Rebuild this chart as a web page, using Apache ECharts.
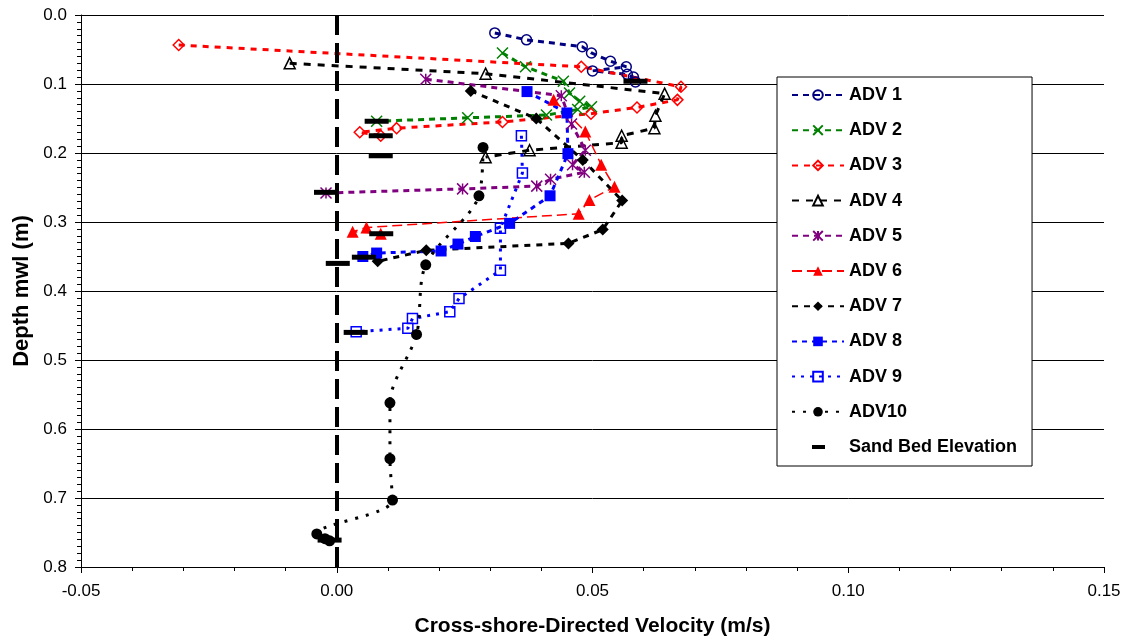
<!DOCTYPE html>
<html><head><meta charset="utf-8">
<script src="https://cdn.jsdelivr.net/npm/echarts@6/dist/echarts.min.js"></script>
<style>html,body{margin:0;padding:0;background:#fff}#c{width:1129px;height:642px}</style>
</head><body><div id="c"></div>
<script>
// ---- data (velocity m/s, depth m) ----
const seriesNames = ['ADV 1','ADV 2','ADV 3','ADV 4','ADV 5','ADV 6','ADV 7','ADV 8','ADV 9','ADV10','Sand Bed Elevation'];
const adv1 = [[0.0309,0.026],[0.0371,0.036],[0.0480,0.046],[0.0498,0.055],[0.0535,0.067],[0.0566,0.075],[0.0500,0.081],[0.0568,0.086],[0.0580,0.090],[0.0584,0.097]];
const adv2 = [[0.0324,0.055],[0.0369,0.075],[0.0443,0.096],[0.0455,0.113],[0.0475,0.125],[0.0498,0.133],[0.0471,0.137],[0.0410,0.145],[0.0256,0.149],[0.0078,0.154]];
const adv3 = [[-0.0309,0.0435],[0.0478,0.075],[0.0673,0.104],[0.0666,0.123],[0.0587,0.134],[0.0497,0.143],[0.0324,0.155],[0.0117,0.164],[0.0045,0.170],[0.0086,0.175]];
const adv4 = [[-0.0092,0.070],[0.0291,0.085],[0.0641,0.114],[0.0623,0.146],[0.0621,0.164],[0.0557,0.175],[0.0557,0.185],[0.0377,0.196],[0.0291,0.206]];
const adv5 = [[0.0174,0.093],[0.0439,0.117],[0.0459,0.158],[0.0486,0.196],[0.0461,0.217],[0.0484,0.228],[0.0418,0.238],[0.0391,0.248],[0.0246,0.252],[-0.0021,0.258]];
const adv6 = [[0.0424,0.123],[0.0486,0.169],[0.0517,0.217],[0.0543,0.249],[0.0494,0.268],[0.0473,0.288],[0.0058,0.308],[0.0031,0.314],[0.0086,0.317]];
const adv7 = [[0.0262,0.110],[0.0390,0.150],[0.0481,0.210],[0.0558,0.269],[0.0520,0.311],[0.0453,0.331],[0.0175,0.341],[0.0080,0.357]];
const adv8 = [[0.0372,0.111],[0.0450,0.142],[0.0452,0.201],[0.0417,0.262],[0.0338,0.302],[0.0271,0.321],[0.0237,0.332],[0.0204,0.342],[0.0078,0.345],[0.0051,0.350]];
const adv9 = [[0.0361,0.175],[0.0363,0.229],[0.0320,0.309],[0.0320,0.370],[0.0239,0.411],[0.0221,0.430],[0.0148,0.440],[0.0139,0.454],[0.0038,0.459]];
const adv10 = [[0.0286,0.192],[0.0278,0.262],[0.0174,0.362],[0.0156,0.463],[0.0104,0.562],[0.0104,0.643],[0.0109,0.703],[-0.0039,0.752],[-0.0023,0.759],[-0.0014,0.762]];
const sandBed = [[0.0584,0.096],[0.0078,0.154],[0.0086,0.175],[0.0086,0.204],[-0.0021,0.257],[0.0087,0.317],[0.0053,0.351],[0.0002,0.360],[0.0037,0.460],[-0.0014,0.761]];
const xTicks = [-0.05, 0.00, 0.05, 0.10, 0.15];
const yTicks = [0.0, 0.1, 0.2, 0.3, 0.4, 0.5, 0.6, 0.7, 0.8];

const FONT = '"Liberation Sans", Arial, sans-serif';
const CROSS = 'path://M0,0L10,10M10,0L0,10';
const STAR = 'path://M0,0L10,10M10,0L0,10M5,0L5,10';

function mk(name, data, color, symbol, size, filled, dash, width, smooth) {
  return {
    name, type: 'line', data, smooth: smooth || false,
    symbol, symbolSize: size, showSymbol: true, showAllSymbol: true,
    lineStyle: { color, width, type: dash, cap: 'butt' },
    itemStyle: filled ? { color, borderWidth: 0, opacity: 1 } : { color: 'rgba(0,0,0,0)', borderColor: color, borderWidth: 1.5, opacity: 1 },
    emphasis: { disabled: true }, animation: false, z: 3
  };
}

const series = [
  mk(seriesNames[0], adv1, '#000080', 'circle', 10, false, [6,5], 3),
  mk(seriesNames[1], adv2, '#008000', CROSS, 11, false, [6,5], 3),
  mk(seriesNames[2], adv3, '#FF0000', 'diamond', 11, false, [6,6], 3),
  mk(seriesNames[3], adv4, '#000000', 'triangle', 11, false, [7,7], 3),
  mk(seriesNames[4], adv5, '#800080', STAR, 11, false, [6,5], 3),
  mk(seriesNames[5], adv6, '#FF0000', 'triangle', 12, true, [10,5], 1.5),
  mk(seriesNames[6], adv7, '#000000', 'diamond', 12, true, [6,6], 3),
  mk(seriesNames[7], adv8, '#0000FF', 'rect', 11, true, [5,5], 3),
  mk(seriesNames[8], adv9, '#0000FF', 'rect', 10, false, [3,6], 3),
  mk(seriesNames[9], adv10, '#000000', 'circle', 11, true, [3,8], 3, 0.3),
  {
    name: seriesNames[10], type: 'scatter', data: sandBed,
    symbol: 'rect', symbolSize: [24, 5], itemStyle: { color: '#000', opacity: 1 },
    emphasis: { disabled: true }, animation: false, z: 4,
    markLine: {
      silent: true, symbol: 'none', animation: false,
      label: { show: false },
      lineStyle: { color: '#000', width: 4, type: [20, 8], opacity: 1 },
      data: [{ xAxis: xTicks[1] }]
    }
  }
];

const legendData = seriesNames.map((n, i) => i === 10
  ? { name: n, icon: 'path://M0,0M52,12M20,4L33,4L33,8L20,8Z', itemStyle: { color: '#000', opacity: 1 } }
  : { name: n });

const chart = echarts.init(document.getElementById('c'), null, { renderer: 'canvas' });
chart.setOption({
  backgroundColor: '#fff',
  animation: false,
  textStyle: { fontFamily: FONT },
  grid: { left: 81, right: 25, top: 15, bottom: 75, containLabel: false },
  xAxis: {
    type: 'value', min: xTicks[0], max: xTicks[xTicks.length - 1], interval: 0.05,
    name: 'Cross-shore-Directed Velocity (m/s)', nameLocation: 'middle', nameGap: 49,
    nameTextStyle: { fontFamily: FONT, fontSize: 21, fontWeight: 'bold', color: '#000' },
    axisLine: { show: true, onZero: false, lineStyle: { color: '#000', width: 1 } },
    axisTick: { show: true, inside: false, length: 6, lineStyle: { color: '#000' } },
    minorTick: { show: true, splitNumber: 5, length: 4, lineStyle: { color: '#000' } },
    splitLine: { show: false },
    axisLabel: { fontFamily: FONT, fontSize: 17, color: '#000', margin: 16, formatter: v => v.toFixed(2) }
  },
  yAxis: {
    type: 'value', inverse: true, min: yTicks[0], max: yTicks[yTicks.length - 1], interval: 0.1,
    name: 'Depth mwl (m)', nameLocation: 'middle', nameGap: 48, nameRotate: 90,
    nameTextStyle: { fontFamily: FONT, fontSize: 22, fontWeight: 'bold', color: '#000' },
    axisLine: { show: true, onZero: false, lineStyle: { color: '#000', width: 1 } },
    axisTick: { show: true, inside: false, length: 6, lineStyle: { color: '#000' } },
    minorTick: { show: true, splitNumber: 10, length: 4, lineStyle: { color: '#000' } },
    splitLine: { show: true, lineStyle: { color: '#000', width: 1 } },
    axisLabel: { fontFamily: FONT, fontSize: 17, color: '#000', margin: 14, formatter: v => v.toFixed(1) }
  },
  legend: {
    orient: 'vertical', left: 777, top: 77,
    padding: [8, 15, 9, 14],
    itemWidth: 52, itemHeight: 12, itemGap: 15.2,
    backgroundColor: '#fff', borderColor: '#000', borderWidth: 1, borderRadius: 0,
    textStyle: { fontFamily: FONT, fontSize: 18, fontWeight: 'bold', color: '#000', lineHeight: 20 },
    selectedMode: false,
    data: legendData
  },
  series
});
</script>
</body></html>
